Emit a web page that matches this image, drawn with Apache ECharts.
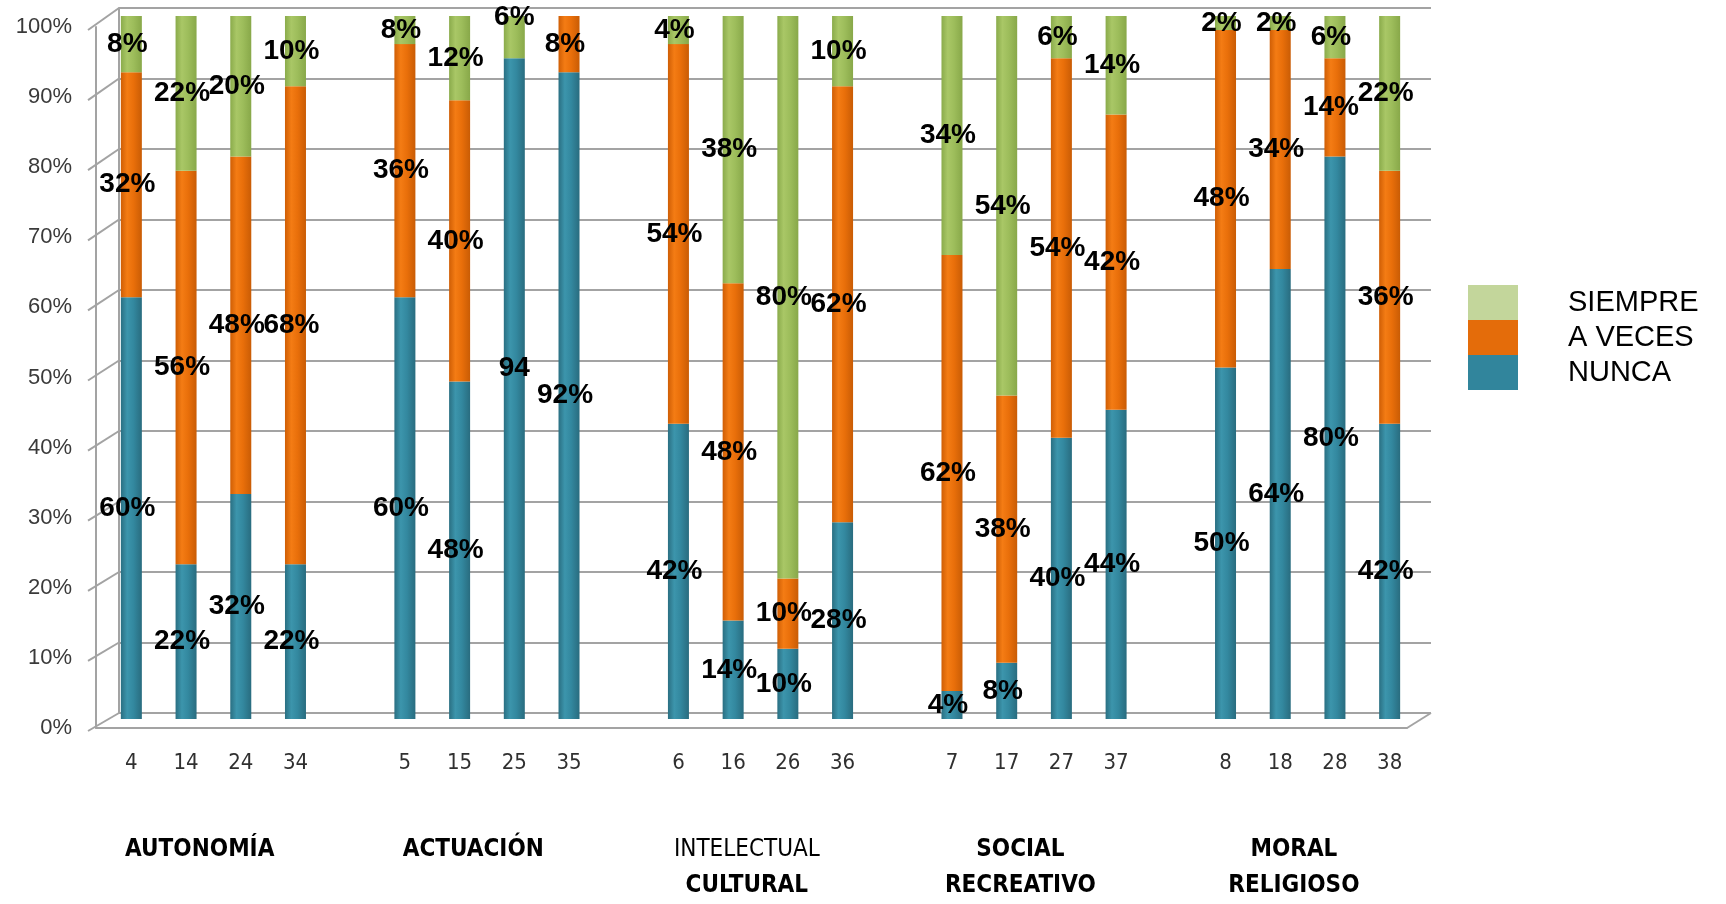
<!DOCTYPE html>
<html>
<head>
<meta charset="utf-8">
<script src="https://cdn.jsdelivr.net/npm/echarts@6/dist/echarts.min.js"></script>
<style>
  html, body { margin: 0; padding: 0; background: #fff; }
  #chart { width: 1726px; height: 904px; }
</style>
</head>
<body>
<div id="chart"></div>
<script>
// Item codes along the axis; '' marks the spacer slot between dimensions
const codes = ['4','14','24','34','', '5','15','25','35','', '6','16','26','36','', '7','17','27','37','', '8','18','28','38'];
// Percentages per answer
const nunca   = [60, 22, 32, 22, null, 60, 48, 94, 92, null, 42, 14, 10, 28, null,  4,  8, 40, 44, null, 50, 64, 80, 42];
const aVeces  = [32, 56, 48, 68, null, 36, 40,  0,  8, null, 54, 48, 10, 62, null, 62, 38, 54, 42, null, 48, 34, 14, 36];
const siempre = [ 8, 22, 20, 10, null,  8, 12,  6,  0, null,  4, 38, 80, 10, null, 34, 54,  6, 14, null,  2,  2,  6, 22];
// Dimension names (each entry: lines of the label, with weight)
const dimensions = [
  [['AUTONOMÍA', 'b']],
  [['ACTUACIÓN', 'b']],
  [['INTELECTUAL', 'n'], ['CULTURAL', 'b']],
  [['SOCIAL', 'b'], ['RECREATIVO', 'b']],
  [['MORAL', 'b'], ['RELIGIOSO', 'b']]
];
const yTicks = [0, 10, 20, 30, 40, 50, 60, 70, 80, 90, 100];

const SLOTS_PER_GROUP = 5;
const LABEL_SHIFT = 1.75;
const GRID_LINE = '#A3A3A3';
const CONDENSED = "'DejaVu Sans Condensed', 'DejaVu Sans', sans-serif";
const ARIAL = "'Liberation Sans', Arial, sans-serif";

function cyl(stops) {
  return { type: 'linear', x: 0, y: 0, x2: 1, y2: 0,
    colorStops: stops.map((c, i) => ({ offset: [0, 0.3, 0.6, 1][i], color: c })) };
}

// Per-point label tweaks
const labelTweaks = {
  'NUNCA:7':  { text: '94', offset: [0, -20] },
  'SIEMPRE:7': { offset: [0, -20] }
};

function makeSeries(name, data, stops) {
  return {
    name, type: 'bar', stack: 'total', xAxisIndex: 0, yAxisIndex: 0,
    barWidth: 21,
    data: data.map((v, i) => {
      const t = labelTweaks[name + ':' + i];
      if (!t) return v;
      return { value: v, label: { offset: t.offset || [-4, 0],
        formatter: t.text ? t.text : (p => p.value + '%') } };
    }),
    itemStyle: { color: cyl(stops) },
    label: {
      show: true, position: 'inside', offset: [-4, 0],
      fontFamily: ARIAL, fontWeight: 'bold', fontSize: 28, color: '#000',
      formatter: p => (p.value ? p.value + '%' : '')
    },
    emphasis: { disabled: true }
  };
}

const chart = echarts.init(document.getElementById('chart'), null, { renderer: 'canvas' });

const groupLabelPos = dimensions.map((d, g) => g * SLOTS_PER_GROUP + LABEL_SHIFT);

const option = {
  animation: false,
  backgroundColor: '#fff',
  grid: [
    { left: 104, width: 1313, top: 16, height: 704 },   // bars
    { left: 119, width: 1312, top: 8, height: 705 },    // back wall
    { left: 96, width: 1311, top: 27, height: 701 }     // front edge
  ],
  xAxis: [
    { type: 'category', gridIndex: 0, data: codes,
      axisLine: { show: false }, axisTick: { show: false },
      axisLabel: { interval: 0, margin: 33, fontFamily: CONDENSED, fontSize: 22, color: '#303030' } },
    { type: 'value', gridIndex: 0, min: 0, max: 24, interval: 0.25, position: 'bottom',
      axisLine: { show: false }, axisTick: { show: false }, splitLine: { show: false },
      axisLabel: {
        margin: 113, verticalAlign: 'top', lineHeight: 36,
        formatter: v => {
          const g = groupLabelPos.findIndex(p => Math.abs(p - v) < 1e-6);
          if (g < 0) return '';
          return dimensions[g].map(([t, w]) => '{' + w + '|' + t + '}').join('\n');
        },
        rich: {
          b: { fontFamily: CONDENSED, fontWeight: 'bold', fontSize: 24, lineHeight: 36, color: '#000' },
          n: { fontFamily: CONDENSED, fontWeight: 'normal', fontSize: 24, lineHeight: 36, color: '#000' }
        }
      } },
    { type: 'value', gridIndex: 1, min: 0, max: 1, show: false },
    { type: 'value', gridIndex: 2, min: 0, max: 1, position: 'bottom',
      axisLine: { show: true, lineStyle: { color: GRID_LINE, width: 2 } },
      axisTick: { show: false }, axisLabel: { show: false }, splitLine: { show: false } }
  ],
  yAxis: [
    { type: 'value', gridIndex: 0, min: 0, max: 100, interval: 10, show: false },
    { type: 'value', gridIndex: 1, min: 0, max: 100, interval: 10,
      axisLine: { show: true, lineStyle: { color: GRID_LINE, width: 2 } },
      axisTick: { show: false }, axisLabel: { show: false },
      splitLine: { show: true, lineStyle: { color: GRID_LINE, width: 2 } } },
    { type: 'value', gridIndex: 2, min: 0, max: 100, interval: 10,
      axisLine: { show: true, lineStyle: { color: GRID_LINE, width: 2 } },
      axisTick: { show: false }, splitLine: { show: false },
      axisLabel: { margin: 24, fontFamily: ARIAL, fontSize: 22, color: '#3a3a3a',
        formatter: '{value}%' } }
  ],
  legend: {
    orient: 'vertical', left: 1463, top: 280,
    itemWidth: 50, itemHeight: 35, itemGap: 0, icon: 'rect',
    selectedMode: false,
    data: [
      { name: 'SIEMPRE', itemStyle: { color: '#C3D69B' } },
      { name: 'A VECES', itemStyle: { color: '#E46C0A' } },
      { name: 'NUNCA', itemStyle: { color: '#31859C' } }
    ],
    textStyle: { fontFamily: ARIAL, fontSize: 29, color: '#000', padding: [0, 0, 0, 45] }
  },
  series: [
    makeSeries('NUNCA', nunca, ['#2A6F82', '#3C95AC', '#33889F', '#296C7F']),
    makeSeries('A VECES', aVeces, ['#CF5E05', '#F47C14', '#E96F0A', '#C95C05']),
    makeSeries('SIEMPRE', siempre, ['#8AAB4B', '#A9C766', '#9DBD5B', '#88A849'])
  ]
};

chart.setOption(option);

// Side wall and floor edges joining the front edge to the back wall
const wall = [];
const fx = chart.convertToPixel({ xAxisIndex: 3 }, 0);
const fxR = chart.convertToPixel({ xAxisIndex: 3 }, 1);
const bx = chart.convertToPixel({ xAxisIndex: 2 }, 0);
const bxR = chart.convertToPixel({ xAxisIndex: 2 }, 1);
yTicks.forEach(v => {
  const yf = chart.convertToPixel({ yAxisIndex: 2 }, v);
  const yb = chart.convertToPixel({ yAxisIndex: 1 }, v);
  wall.push({ type: 'line', silent: true,
    shape: { x1: fx - 8, y1: yf + 3, x2: bx, y2: yb },
    style: { stroke: GRID_LINE, lineWidth: 2 } });
});
const yf0 = chart.convertToPixel({ yAxisIndex: 2 }, 0);
const yb0 = chart.convertToPixel({ yAxisIndex: 1 }, 0);
wall.push({ type: 'line', silent: true,
  shape: { x1: fxR, y1: yf0, x2: bxR, y2: yb0 },
  style: { stroke: GRID_LINE, lineWidth: 2 } });
chart.setOption({ graphic: wall });
</script>
</body>
</html>
